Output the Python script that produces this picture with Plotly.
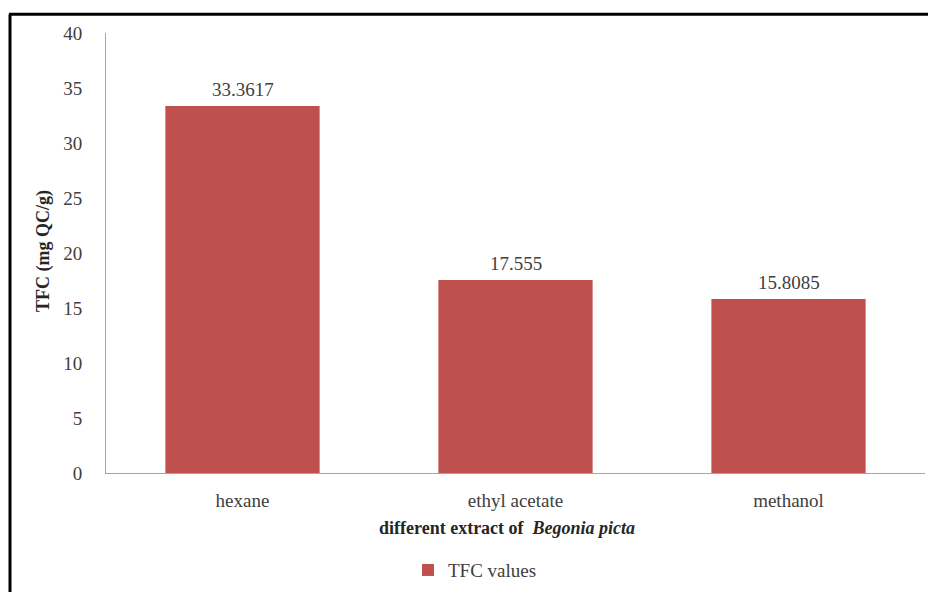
import plotly.graph_objects as go

categories = ["hexane", "ethyl acetate", "methanol"]
tfc_values = [33.3617, 17.555, 15.8085]
value_labels = ["33.3617", "17.555", "15.8085"]
y_ticks = [0, 5, 10, 15, 20, 25, 30, 35, 40]

W, H = 928, 592
L, R, T, B = 106, 3, 33, 115
pw, ph = W - L - R, H - T - B

def px(x):
    return (x - L) / pw

def py(y):
    return (H - B - y) / ph

FONT = "Liberation Serif, Times New Roman, serif"
FS = 19

fig = go.Figure()
fig.add_trace(go.Bar(
    x=categories, y=tfc_values, name="TFC values",
    marker=dict(color="#C0504D", line=dict(width=0)),
    width=0.565,
))

for c, v, t in zip(categories, tfc_values, value_labels):
    fig.add_annotation(x=c, y=v, text=t, showarrow=False, yanchor="bottom", yshift=4,
                       font=dict(family=FONT, size=FS, color="#404040"))

fig.update_layout(
    width=W, height=H,
    margin=dict(l=L, r=R, t=T, b=B),
    paper_bgcolor="white", plot_bgcolor="white",
    font=dict(family=FONT, color="#404040"),
    showlegend=True,
    legend=dict(orientation="h", x=px(408), y=py(575), xanchor="left", yanchor="middle",
                font=dict(family=FONT, size=FS, color="#404040"),
                itemwidth=30),
)
fig.update_yaxes(range=[0, 40], tickvals=y_ticks, showgrid=False, zeroline=False,
                 showline=True, linecolor="#A6A6A6", linewidth=1,
                 ticks="", ticklabelstandoff=19,
                 tickfont=dict(family=FONT, size=FS, color="#404040"))
fig.update_xaxes(showline=True, linecolor="#A6A6A6", linewidth=1, ticks="",
                 ticklabelstandoff=10,
                 tickfont=dict(family=FONT, size=FS, color="#404040"))

fig.add_annotation(xref="paper", yref="paper", x=px(43), y=py(253), text="<b>TFC (mg QC/g)</b>",
                   textangle=-90, showarrow=False, xanchor="center", yanchor="middle",
                   font=dict(family=FONT, size=18, color="#262626"))
fig.add_annotation(xref="paper", yref="paper", x=px(507), y=py(533),
                   text="<b>different extract of  <i>Begonia picta</i></b>",
                   showarrow=False, xanchor="center", yanchor="middle",
                   font=dict(family=FONT, size=18, color="#262626"))

# outer frame (left and top)
fig.add_shape(type="line", xref="paper", yref="paper", x0=px(10), x1=px(10), y0=py(14), y1=py(600),
              line=dict(color="black", width=3))
fig.add_shape(type="line", xref="paper", yref="paper", x0=px(9), x1=px(930), y0=py(14), y1=py(14),
              line=dict(color="black", width=3))

fig.write_html("out.html")
